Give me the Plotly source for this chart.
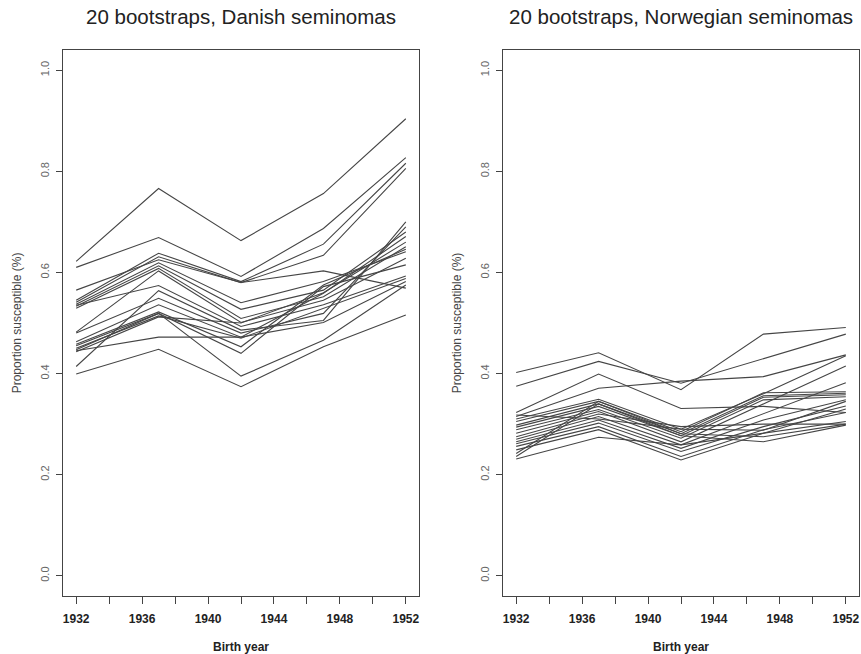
import plotly.graph_objects as go

# ---------------- data ----------------
years = [1932, 1937, 1942, 1947, 1952]

danish = [
    [0.622, 0.766, 0.663, 0.756, 0.904],
    [0.610, 0.669, 0.592, 0.687, 0.827],
    [0.545, 0.638, 0.582, 0.656, 0.816],
    [0.541, 0.631, 0.580, 0.634, 0.806],
    [0.565, 0.625, 0.580, 0.603, 0.569],
    [0.537, 0.619, 0.540, 0.582, 0.641],
    [0.533, 0.613, 0.527, 0.565, 0.680],
    [0.529, 0.608, 0.509, 0.552, 0.651],
    [0.482, 0.603, 0.501, 0.545, 0.628],
    [0.535, 0.574, 0.493, 0.536, 0.593],
    [0.414, 0.564, 0.486, 0.505, 0.700],
    [0.480, 0.549, 0.480, 0.519, 0.690],
    [0.463, 0.536, 0.472, 0.559, 0.671],
    [0.458, 0.522, 0.453, 0.575, 0.646],
    [0.455, 0.519, 0.440, 0.572, 0.615],
    [0.450, 0.514, 0.470, 0.529, 0.588],
    [0.445, 0.472, 0.472, 0.501, 0.582],
    [0.447, 0.519, 0.395, 0.466, 0.575],
    [0.399, 0.448, 0.374, 0.453, 0.516],
    [0.443, 0.512, 0.500, 0.560, 0.660],
]

norwegian = [
    [0.402, 0.441, 0.368, 0.478, 0.491],
    [0.375, 0.424, 0.381, 0.430, 0.478],
    [0.323, 0.399, 0.331, 0.335, 0.323],
    [0.315, 0.371, 0.385, 0.394, 0.437],
    [0.310, 0.349, 0.290, 0.360, 0.435],
    [0.305, 0.345, 0.285, 0.362, 0.364],
    [0.298, 0.340, 0.281, 0.356, 0.361],
    [0.294, 0.335, 0.277, 0.353, 0.358],
    [0.289, 0.329, 0.272, 0.348, 0.354],
    [0.282, 0.325, 0.265, 0.340, 0.415],
    [0.275, 0.320, 0.295, 0.300, 0.300],
    [0.270, 0.315, 0.259, 0.321, 0.382],
    [0.265, 0.308, 0.252, 0.308, 0.348],
    [0.261, 0.302, 0.246, 0.295, 0.336],
    [0.256, 0.295, 0.236, 0.289, 0.323],
    [0.249, 0.289, 0.229, 0.282, 0.330],
    [0.242, 0.345, 0.281, 0.275, 0.300],
    [0.236, 0.340, 0.277, 0.265, 0.298],
    [0.231, 0.274, 0.259, 0.282, 0.305],
    [0.318, 0.310, 0.290, 0.288, 0.345],
]

titles = ["20 bootstraps, Danish seminomas", "20 bootstraps, Norwegian seminomas"]
x_tickvals = list(range(1932, 1953, 2))
x_ticktext = [str(v) if (v - 1932) % 4 == 0 else "" for v in x_tickvals]
y_tickvals = [0.0, 0.2, 0.4, 0.6, 0.8, 1.0]
y_ticktext = ["0.0", "0.2", "0.4", "0.6", "0.8", "1.0"]
x_title = "Birth year"
y_title = "Proportion susceptible (%)"

# ---------------- figure ----------------
W, H = 861, 654
FONT = "Liberation Sans, Arial, Helvetica, sans-serif"
LINE_COLOR = "#454545"

fig = go.Figure()
for i, series in enumerate([danish, norwegian]):
    xa = "x" if i == 0 else "x2"
    ya = "y" if i == 0 else "y2"
    for s in series:
        fig.add_trace(go.Scatter(
            x=years, y=s, mode="lines", xaxis=xa, yaxis=ya,
            line=dict(color=LINE_COLOR, width=1.1), showlegend=False,
            hoverinfo="skip"))

# plot boxes in pixel coordinates
boxes = [(63, 419), (503, 859)]
top_px, bot_px = 50, 596
ydom = [1 - bot_px / H, 1 - top_px / H]

axis_common_x = dict(
    range=[1931.2, 1952.8], tickmode="array", tickvals=x_tickvals,
    ticktext=x_ticktext, ticks="outside", ticklen=7, tickcolor="#444",
    tickwidth=1, showline=True, linecolor="#444", linewidth=1, mirror=True,
    showgrid=False, zeroline=False, automargin=False,
    tickfont=dict(family=FONT, size=12, color="#222", weight="bold"),
    ticklabelstandoff=5,
    title=dict(text=x_title, font=dict(family=FONT, size=12, color="#222",
                                       weight="bold"), standoff=17),
)
axis_common_y = dict(
    range=[-0.04, 1.04], tickmode="array", tickvals=y_tickvals,
    ticktext=y_ticktext, ticks="outside", ticklen=6, tickcolor="#444",
    tickwidth=1, showline=True, linecolor="#444", linewidth=1, mirror=True,
    showgrid=False, zeroline=False, tickangle=-90, automargin=False,
    tickfont=dict(family=FONT, size=11, color="#666"),
    ticklabelstandoff=3,
    title=dict(text=y_title, font=dict(family=FONT, size=12, color="#444"),
               standoff=14),
)

layout = dict(
    width=W, height=H, margin=dict(l=0, r=0, t=0, b=0, autoexpand=False),
    paper_bgcolor="white", plot_bgcolor="white",
)
for i, (l, r) in enumerate(boxes):
    xd = [l / W, r / W]
    sx = "xaxis" if i == 0 else "xaxis2"
    sy = "yaxis" if i == 0 else "yaxis2"
    layout[sx] = dict(axis_common_x, domain=xd, anchor="y" if i == 0 else "y2")
    layout[sy] = dict(axis_common_y, domain=ydom, anchor="x" if i == 0 else "x2")
fig.update_layout(**layout)

for i, (l, r) in enumerate(boxes):
    fig.add_annotation(
        text=titles[i], xref="paper", yref="paper",
        x=((l + r) / 2) / W, y=1 - 17 / H, xanchor="center",
        yanchor="middle", showarrow=False,
        font=dict(family=FONT, size=20.5, color="#222"))

fig.write_html(
    "out.html",
    config={"displayModeBar": False},
    post_script="document.body.style.margin='0';"
                "document.body.style.overflow='hidden';",
)
